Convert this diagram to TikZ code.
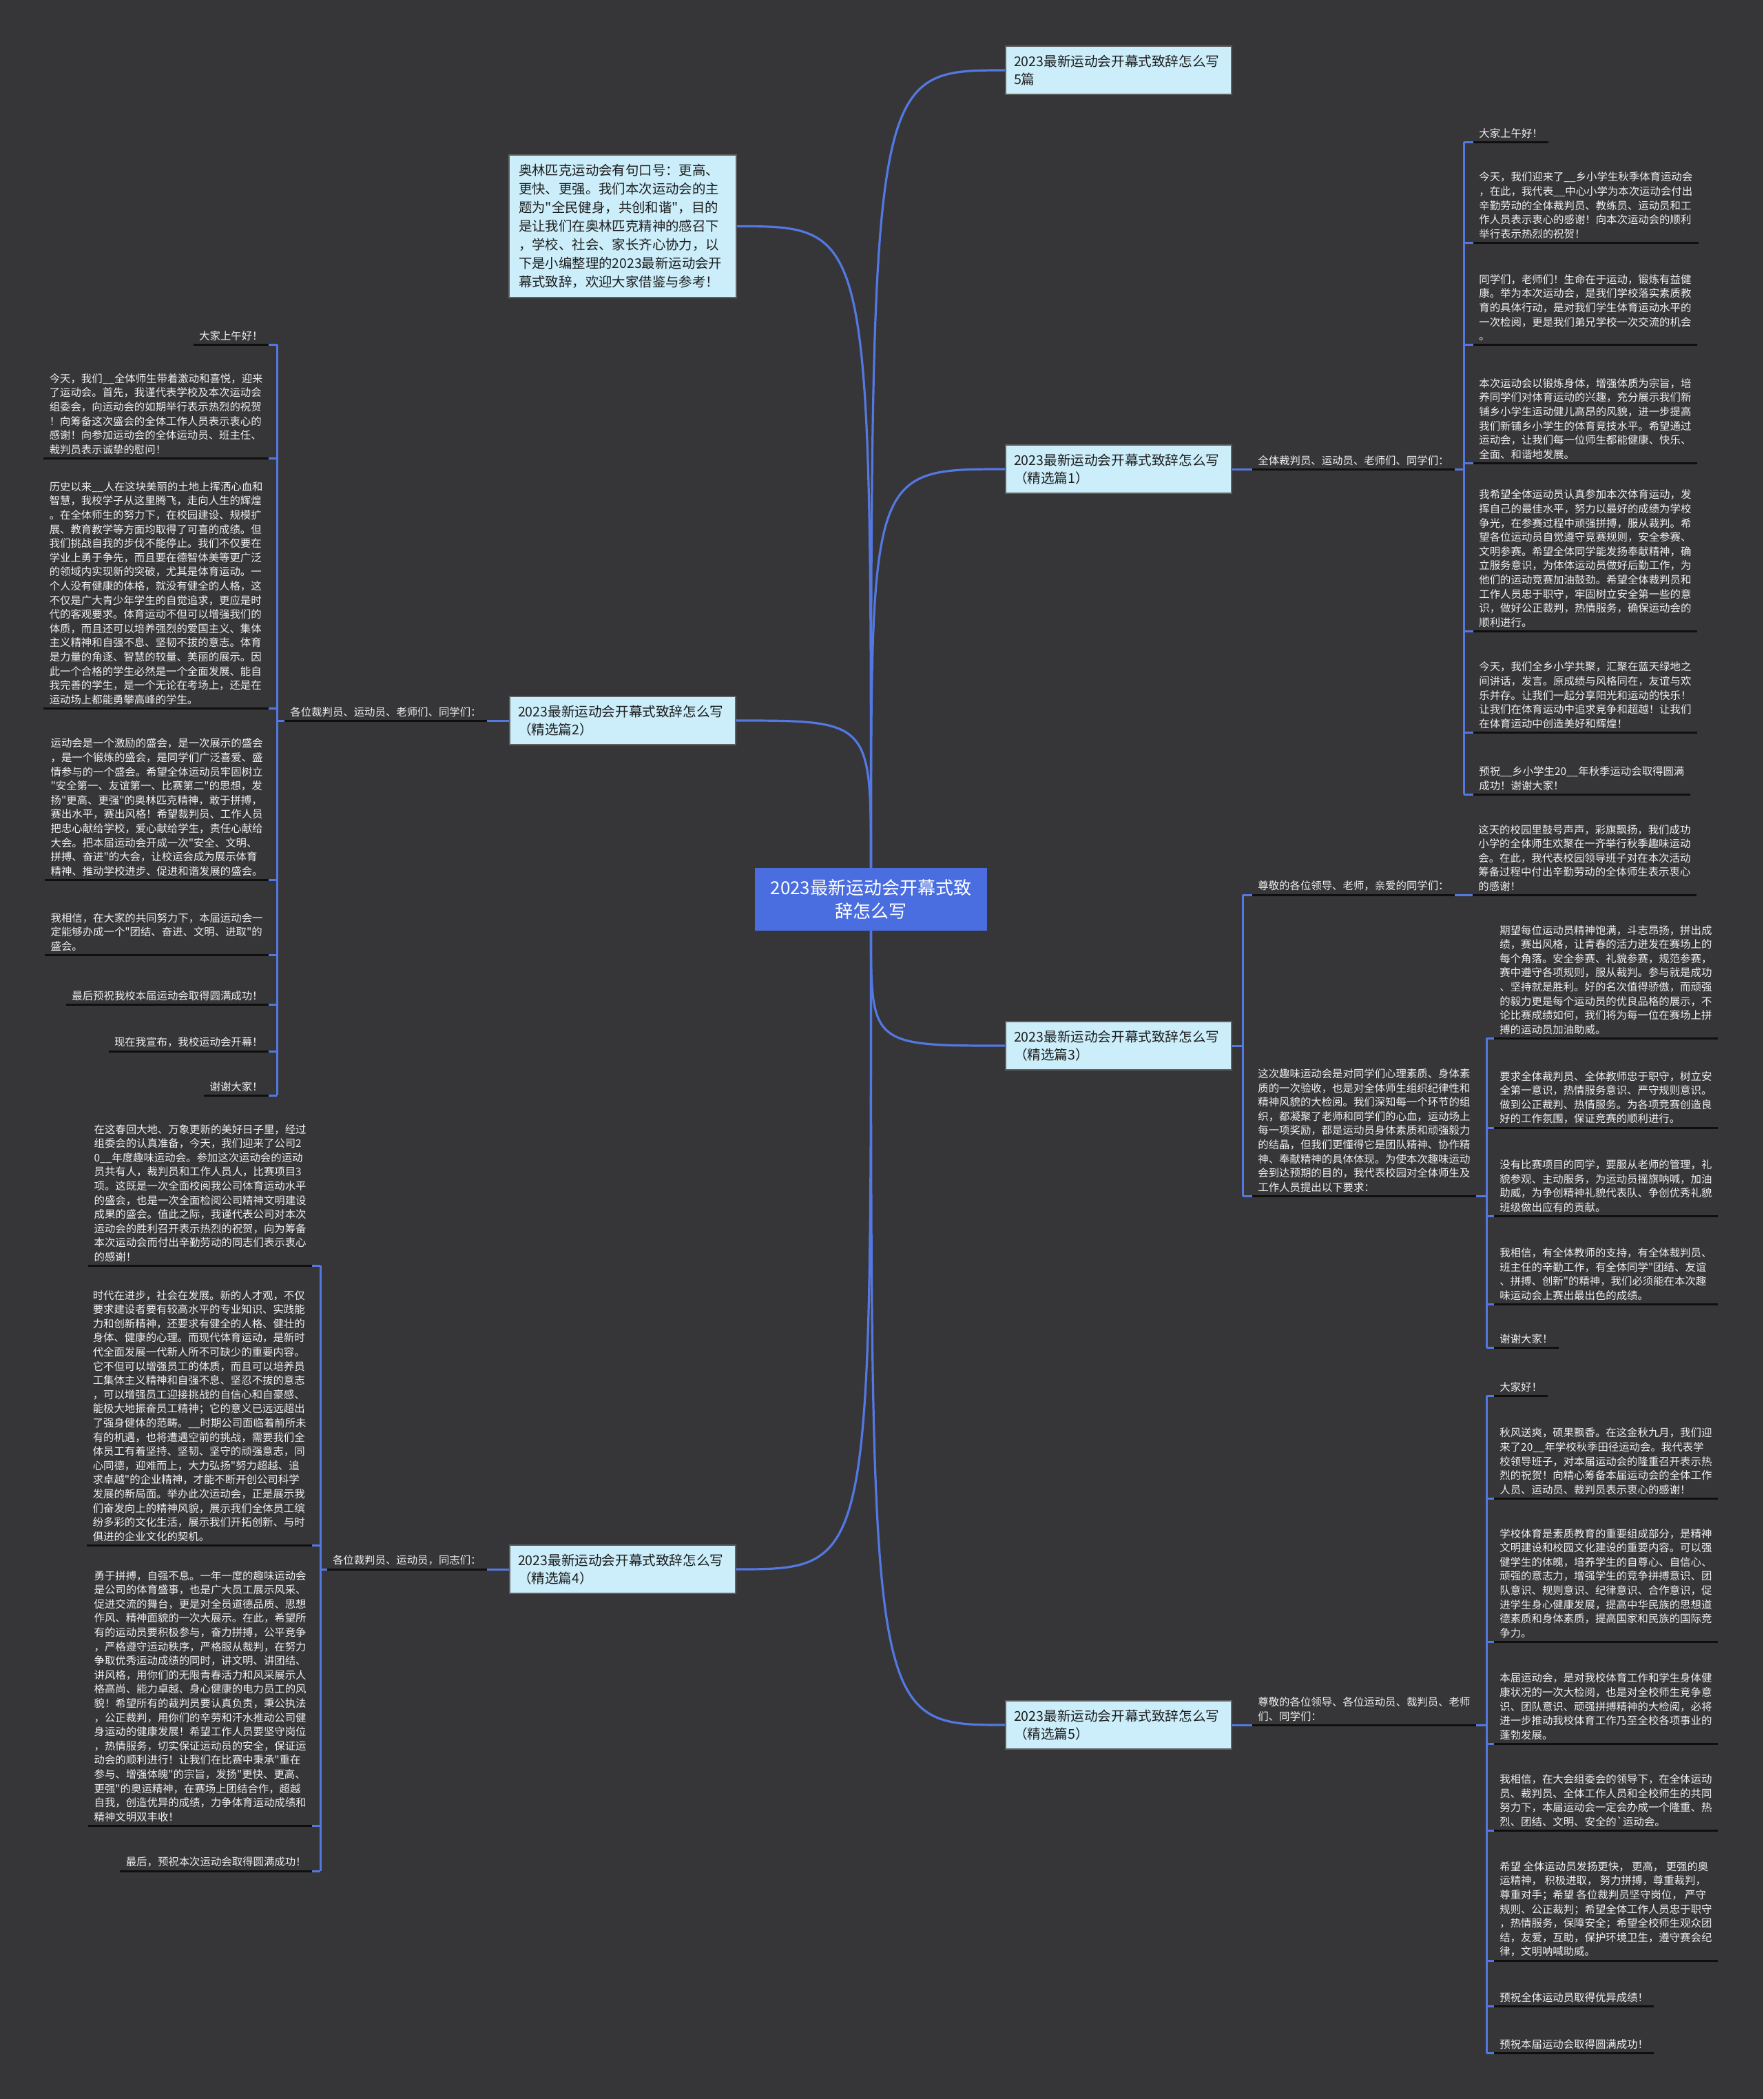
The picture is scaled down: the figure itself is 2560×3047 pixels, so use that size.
\documentclass[tikz,border=0pt]{standalone}
\usepackage{fontspec}
\newfontfamily\cjk{Noto Sans CJK SC}
\usetikzlibrary{calc}
\definecolor{bg}{RGB}{54,54,56}
\definecolor{cen}{RGB}{74,110,224}
\definecolor{boxf}{RGB}{204,238,251}
\definecolor{boxb}{RGB}{95,95,95}
\definecolor{lnk}{RGB}{84,120,226}
\definecolor{txt}{RGB}{240,240,240}
\definecolor{txtd}{RGB}{30,30,30}
\definecolor{uc}{RGB}{15,15,15}
\tikzset{
  cnode/.style={fill=cen, text=white, font=\cjk\fontsize{13}{17}\selectfont, align=center, minimum width=168.5pt, minimum height=45.5pt, inner sep=0pt},
  mbox/.style={fill=boxf, draw=boxb, line width=0.8pt, text=txtd, font=\cjk\fontsize{9.8}{12.8}\selectfont, align=left, text width=152pt, inner xsep=6pt, minimum height=35pt},
  uline/.style={draw=uc, line width=1.5pt},
  ctext/.style={text=txt, font=\cjk\fontsize{7.7}{10.3}\selectfont, align=left, inner xsep=4pt, inner ysep=2.5pt, append after command={(\tikzlastnode.south west) edge[uline] (\tikzlastnode.south east)}},
  blink/.style={draw=lnk, line width=1.5pt},
  mcurve/.style={draw=lnk, line width=1.6pt},
}
\begin{document}
\begin{tikzpicture}[x=0.5pt,y=-0.5pt]
\fill[bg] (0,0) rectangle (2560,3047);

% central and main nodes
\node[cnode] (c) at (1264.5,1305.5) {2023最新运动会开幕式致\\辞怎么写};
\node[mbox] (b0) at (1624,102) {2023最新运动会开幕式致辞怎么写\\5篇};
\node[mbox, text width=151pt, inner xsep=7pt, minimum height=103.5pt, font=\cjk\fontsize{9.7}{13.5}\selectfont] (intro) at (904,328.5) {奥林匹克运动会有句口号：更高、\\更快、更强。我们本次运动会的主\\题为"全民健身，共创和谐"，目的\\是让我们在奥林匹克精神的感召下\\，学校、社会、家长齐心协力，以\\下是小编整理的2023最新运动会开\\幕式致辞，欢迎大家借鉴与参考！};
\node[mbox] (b1) at (1624,681) {2023最新运动会开幕式致辞怎么写\\（精选篇1）};
\node[mbox] (b2) at (904,1046) {2023最新运动会开幕式致辞怎么写\\（精选篇2）};
\node[mbox] (b3) at (1624,1518) {2023最新运动会开幕式致辞怎么写\\（精选篇3）};
\node[mbox] (b4) at (904,2278) {2023最新运动会开幕式致辞怎么写\\（精选篇4）};
\node[mbox] (b5) at (1624,2504) {2023最新运动会开幕式致辞怎么写\\（精选篇5）};

\draw[mcurve] (c.north) .. controls (c.north |- b0.west) .. (b0.west);
\draw[mcurve] (c.north) .. controls (c.north |- intro.east) .. (intro.east);
\draw[mcurve] (c.north) .. controls (c.north |- b1.west) .. (b1.west);
\draw[mcurve] (c.north) .. controls (c.north |- b2.east) .. (b2.east);
\draw[mcurve] (c.south) .. controls (c.south |- b3.west) .. (b3.west);
\draw[mcurve] (c.south) .. controls (c.south |- b4.east) .. (b4.east);
\draw[mcurve] (c.south) .. controls (c.south |- b5.west) .. (b5.west);

% ---------- 篇1 ----------
\coordinate (k1) at (2125,681);
\node[ctext, anchor=south west] (l1) at (1818,681) {全体裁判员、运动员、老师们、同学们：};
\draw[blink] (b1.east) -- (l1.south west);
\draw[blink] (l1.south east) -- (k1);
\node[ctext, anchor=south west] (r1a) at (2139,206) {大家上午好！};
\node[ctext, anchor=south west] (r1b) at (2139,352) {今天，我们迎来了\_\_乡小学生秋季体育运动会\\，在此，我代表\_\_中心小学为本次运动会付出\\辛勤劳动的全体裁判员、教练员、运动员和工\\作人员表示衷心的感谢！向本次运动会的顺利\\举行表示热烈的祝贺！};
\node[ctext, anchor=south west] (r1c) at (2139,500) {同学们，老师们！生命在于运动，锻炼有益健\\康。举为本次运动会，是我们学校落实素质教\\育的具体行动，是对我们学生体育运动水平的\\一次检阅，更是我们弟兄学校一次交流的机会\\。};
\node[ctext, anchor=south west] (r1d) at (2139,672) {本次运动会以锻炼身体，增强体质为宗旨，培\\养同学们对体育运动的兴趣，充分展示我们新\\铺乡小学生运动健儿高昂的风貌，进一步提高\\我们新铺乡小学生的体育竞技水平。希望通过\\运动会，让我们每一位师生都能健康、快乐、\\全面、和谐地发展。};
\node[ctext, anchor=south west] (r1e) at (2139,916) {我希望全体运动员认真参加本次体育运动，发\\挥自己的最佳水平，努力以最好的成绩为学校\\争光，在参赛过程中顽强拼搏，服从裁判。希\\望各位运动员自觉遵守竞赛规则，安全参赛、\\文明参赛。希望全体同学能发扬奉献精神，确\\立服务意识，为体体运动员做好后勤工作，为\\他们的运动竞赛加油鼓劲。希望全体裁判员和\\工作人员忠于职守，牢固树立安全第一些的意\\识，做好公正裁判，热情服务，确保运动会的\\顺利进行。};
\node[ctext, anchor=south west] (r1f) at (2139,1063) {今天，我们全乡小学共聚，汇聚在蓝天绿地之\\间讲话，发言。原成绩与风格同在，友谊与欢\\乐并存。让我们一起分享阳光和运动的快乐！\\让我们在体育运动中追求竞争和超越！让我们\\在体育运动中创造美好和辉煌！};
\node[ctext, anchor=south west] (r1g) at (2139,1153) {预祝\_\_乡小学生20\_\_年秋季运动会取得圆满\\成功！谢谢大家！};
\draw[blink] (k1 |- r1a.south) -- (k1 |- r1g.south);
\foreach \n in {r1a,r1b,r1c,r1d,r1e,r1f,r1g} \draw[blink] (k1 |- \n.south west) -- (\n.south west);

% ---------- 篇2 ----------
\coordinate (k2) at (402,1046);
\node[ctext, anchor=south east] (l2) at (707,1046) {各位裁判员、运动员、老师们、同学们：};
\draw[blink] (b2.west) -- (l2.south east);
\draw[blink] (l2.south west) -- (k2);
\node[ctext, anchor=south east] (r2a) at (390,500) {大家上午好！};
\node[ctext, anchor=south east] (r2b) at (390,665) {今天，我们\_\_全体师生带着激动和喜悦，迎来\\了运动会。首先，我谨代表学校及本次运动会\\组委会，向运动会的如期举行表示热烈的祝贺\\！向筹备这次盛会的全体工作人员表示衷心的\\感谢！向参加运动会的全体运动员、班主任、\\裁判员表示诚挚的慰问！};
\node[ctext, anchor=south east] (r2c) at (390,1028) {历史以来\_\_人在这块美丽的土地上挥洒心血和\\智慧，我校学子从这里腾飞，走向人生的辉煌\\。在全体师生的努力下，在校园建设、规模扩\\展、教育教学等方面均取得了可喜的成绩。但\\我们挑战自我的步伐不能停止。我们不仅要在\\学业上勇于争先，而且要在德智体美等更广泛\\的领域内实现新的突破，尤其是体育运动。一\\个人没有健康的体格，就没有健全的人格，这\\不仅是广大青少年学生的自觉追求，更应是时\\代的客观要求。体育运动不但可以增强我们的\\体质，而且还可以培养强烈的爱国主义、集体\\主义精神和自强不息、坚韧不拔的意志。体育\\是力量的角逐、智慧的较量、美丽的展示。因\\此一个合格的学生必然是一个全面发展、能自\\我完善的学生，是一个无论在考场上，还是在\\运动场上都能勇攀高峰的学生。};
\node[ctext, anchor=south east] (r2d) at (390,1277) {运动会是一个激励的盛会，是一次展示的盛会\\，是一个锻炼的盛会，是同学们广泛喜爱、盛\\情参与的一个盛会。希望全体运动员牢固树立\\"安全第一、友谊第一、比赛第二"的思想，发\\扬"更高、更强"的奥林匹克精神，敢于拼搏，\\赛出水平，赛出风格！希望裁判员、工作人员\\把忠心献给学校，爱心献给学生，责任心献给\\大会。把本届运动会开成一次"安全、文明、\\拼搏、奋进"的大会，让校运会成为展示体育\\精神、推动学校进步、促进和谐发展的盛会。};
\node[ctext, anchor=south east] (r2e) at (390,1386) {我相信，在大家的共同努力下，本届运动会一\\定能够办成一个"团结、奋进、文明、进取"的\\盛会。};
\node[ctext, anchor=south east] (r2f) at (390,1458) {最后预祝我校本届运动会取得圆满成功！};
\node[ctext, anchor=south east] (r2g) at (390,1526) {现在我宣布，我校运动会开幕！};
\node[ctext, anchor=south east] (r2h) at (390,1590) {谢谢大家！};
\draw[blink] (k2 |- r2a.south) -- (k2 |- r2h.south);
\foreach \n in {r2a,r2b,r2c,r2d,r2e,r2f,r2g,r2h} \draw[blink] (k2 |- \n.south east) -- (\n.south east);

% ---------- 篇3 ----------
\coordinate (k3) at (1804,1518);
\coordinate (k3b) at (2158,1736);
\node[ctext, anchor=south west] (l3a) at (1818,1299) {尊敬的各位领导、老师，亲爱的同学们：};
\node[ctext, anchor=south west] (l3b) at (1818,1736) {这次趣味运动会是对同学们心理素质、身体素\\质的一次验收，也是对全体师生组织纪律性和\\精神风貌的大检阅。我们深知每一个环节的组\\织，都凝聚了老师和同学们的心血，运动场上\\每一项奖励，都是运动员身体素质和顽强毅力\\的结晶，但我们更懂得它是团队精神、协作精\\神、奉献精神的具体体现。为使本次趣味运动\\会到达预期的目的，我代表校园对全体师生及\\工作人员提出以下要求：};
\draw[blink] (b3.east) -- (k3);
\draw[blink] (k3 |- l3a.south) -- (k3 |- l3b.south);
\draw[blink] (k3 |- l3a.south) -- (l3a.south west);
\draw[blink] (k3 |- l3b.south) -- (l3b.south west);
\node[ctext, anchor=south west] (r3a) at (2138,1299) {这天的校园里鼓号声声，彩旗飘扬，我们成功\\小学的全体师生欢聚在一齐举行秋季趣味运动\\会。在此，我代表校园领导班子对在本次活动\\筹备过程中付出辛勤劳动的全体师生表示衷心\\的感谢！};
\draw[blink] (l3a.south east) -- (r3a.south west);
\draw[blink] (l3b.south east) -- (k3b);
\node[ctext, anchor=south west] (r3b) at (2169,1507) {期望每位运动员精神饱满，斗志昂扬，拼出成\\绩，赛出风格，让青春的活力迸发在赛场上的\\每个角落。安全参赛、礼貌参赛，规范参赛，\\赛中遵守各项规则，服从裁判。参与就是成功\\、坚持就是胜利。好的名次值得骄傲，而顽强\\的毅力更是每个运动员的优良品格的展示，不\\论比赛成绩如何，我们将为每一位在赛场上拼\\搏的运动员加油助威。};
\node[ctext, anchor=south west] (r3c) at (2169,1637) {要求全体裁判员、全体教师忠于职守，树立安\\全第一意识，热情服务意识、严守规则意识。\\做到公正裁判、热情服务。为各项竞赛创造良\\好的工作氛围，保证竞赛的顺利进行。};
\node[ctext, anchor=south west] (r3d) at (2169,1765) {没有比赛项目的同学，要服从老师的管理，礼\\貌参观、主动服务，为运动员摇旗呐喊，加油\\助威，为争创精神礼貌代表队、争创优秀礼貌\\班级做出应有的贡献。};
\node[ctext, anchor=south west] (r3e) at (2169,1893) {我相信，有全体教师的支持，有全体裁判员、\\班主任的辛勤工作，有全体同学"团结、友谊\\、拼搏、创新"的精神，我们必须能在本次趣\\味运动会上赛出最出色的成绩。};
\node[ctext, anchor=south west] (r3f) at (2169,1956) {谢谢大家！};
\draw[blink] (k3b |- r3b.south) -- (k3b |- r3f.south);
\foreach \n in {r3b,r3c,r3d,r3e,r3f} \draw[blink] (k3b |- \n.south west) -- (\n.south west);

% ---------- 篇4 ----------
\coordinate (k4) at (465,2278);
\node[ctext, anchor=south east] (l4) at (707,2278) {各位裁判员、运动员，同志们：};
\draw[blink] (b4.west) -- (l4.south east);
\draw[blink] (l4.south west) -- (k4);
\node[ctext, anchor=south east] (r4a) at (453,1837) {在这春回大地、万象更新的美好日子里，经过\\组委会的认真准备，今天，我们迎来了公司2\\0\_\_年度趣味运动会。参加这次运动会的运动\\员共有人，裁判员和工作人员人，比赛项目3\\项。这既是一次全面校阅我公司体育运动水平\\的盛会，也是一次全面检阅公司精神文明建设\\成果的盛会。值此之际，我谨代表公司对本次\\运动会的胜利召开表示热烈的祝贺，向为筹备\\本次运动会而付出辛勤劳动的同志们表示衷心\\的感谢！};
\node[ctext, anchor=south east] (r4b) at (453,2243) {时代在进步，社会在发展。新的人才观，不仅\\要求建设者要有较高水平的专业知识、实践能\\力和创新精神，还要求有健全的人格、健壮的\\身体、健康的心理。而现代体育运动，是新时\\代全面发展一代新人所不可缺少的重要内容。\\它不但可以增强员工的体质，而且可以培养员\\工集体主义精神和自强不息、坚忍不拔的意志\\，可以增强员工迎接挑战的自信心和自豪感、\\能极大地振奋员工精神；它的意义已远远超出\\了强身健体的范畴。\_\_时期公司面临着前所未\\有的机遇，也将遭遇空前的挑战，需要我们全\\体员工有着坚持、坚韧、坚守的顽强意志，同\\心同德，迎难而上，大力弘扬"努力超越、追\\求卓越"的企业精神，才能不断开创公司科学\\发展的新局面。举办此次运动会，正是展示我\\们奋发向上的精神风貌，展示我们全体员工缤\\纷多彩的文化生活，展示我们开拓创新、与时\\俱进的企业文化的契机。};
\node[ctext, anchor=south east] (r4c) at (453,2650) {勇于拼搏，自强不息。一年一度的趣味运动会\\是公司的体育盛事，也是广大员工展示风采、\\促进交流的舞台，更是对全员道德品质、思想\\作风、精神面貌的一次大展示。在此，希望所\\有的运动员要积极参与，奋力拼搏，公平竞争\\，严格遵守运动秩序，严格服从裁判，在努力\\争取优秀运动成绩的同时，讲文明、讲团结、\\讲风格，用你们的无限青春活力和风采展示人\\格高尚、能力卓越、身心健康的电力员工的风\\貌！希望所有的裁判员要认真负责，秉公执法\\，公正裁判，用你们的辛劳和汗水推动公司健\\身运动的健康发展！希望工作人员要坚守岗位\\，热情服务，切实保证运动员的安全，保证运\\动会的顺利进行！让我们在比赛中秉承"重在\\参与、增强体魄"的宗旨，发扬"更快、更高、\\更强"的奥运精神，在赛场上团结合作，超越\\自我，创造优异的成绩，力争体育运动成绩和\\精神文明双丰收！};
\node[ctext, anchor=south east] (r4d) at (453,2716) {最后，预祝本次运动会取得圆满成功！};
\draw[blink] (k4 |- r4a.south) -- (k4 |- r4d.south);
\foreach \n in {r4a,r4b,r4c,r4d} \draw[blink] (k4 |- \n.south east) -- (\n.south east);

% ---------- 篇5 ----------
\coordinate (k5) at (2158,2504);
\node[ctext, anchor=south west] (l5) at (1818,2504) {尊敬的各位领导、各位运动员、裁判员、老师\\们、同学们：};
\draw[blink] (b5.east) -- (l5.south west);
\draw[blink] (l5.south east) -- (k5);
\node[ctext, anchor=south west] (r5a) at (2169,2026) {大家好！};
\node[ctext, anchor=south west] (r5b) at (2169,2175) {秋风送爽，硕果飘香。在这金秋九月，我们迎\\来了20\_\_年学校秋季田径运动会。我代表学\\校领导班子，对本届运动会的隆重召开表示热\\烈的祝贺！向精心筹备本届运动会的全体工作\\人员、运动员、裁判员表示衷心的感谢！};
\node[ctext, anchor=south west] (r5c) at (2169,2383) {学校体育是素质教育的重要组成部分，是精神\\文明建设和校园文化建设的重要内容。可以强\\健学生的体魄，培养学生的自尊心、自信心、\\顽强的意志力，增强学生的竞争拼搏意识、团\\队意识、规则意识、纪律意识、合作意识，促\\进学生身心健康发展，提高中华民族的思想道\\德素质和身体素质，提高国家和民族的国际竞\\争力。};
\node[ctext, anchor=south west] (r5d) at (2169,2531) {本届运动会，是对我校体育工作和学生身体健\\康状况的一次大检阅，也是对全校师生竞争意\\识、团队意识、顽强拼搏精神的大检阅，必将\\进一步推动我校体育工作乃至全校各项事业的\\蓬勃发展。};
\node[ctext, anchor=south west] (r5e) at (2169,2657) {我相信，在大会组委会的领导下，在全体运动\\员、裁判员、全体工作人员和全校师生的共同\\努力下，本届运动会一定会办成一个隆重、热\\烈、团结、文明、安全的`运动会。};
\node[ctext, anchor=south west] (r5f) at (2169,2846) {希望 全体运动员发扬更快， 更高， 更强的奥\\运精神， 积极进取， 努力拼搏，尊重裁判，\\尊重对手；希望 各位裁判员坚守岗位， 严守\\规则、公正裁判；希望全体工作人员忠于职守\\，热情服务，保障安全；希望全校师生观众团\\结，友爱，互助，保护环境卫生，遵守赛会纪\\律，文明呐喊助威。};
\node[ctext, anchor=south west] (r5g) at (2169,2912) {预祝全体运动员取得优异成绩！};
\node[ctext, anchor=south west] (r5h) at (2169,2980) {预祝本届运动会取得圆满成功！};
\draw[blink] (k5 |- r5a.south) -- (k5 |- r5h.south);
\foreach \n in {r5a,r5b,r5c,r5d,r5e,r5f,r5g,r5h} \draw[blink] (k5 |- \n.south west) -- (\n.south west);
\end{tikzpicture}
\end{document}
